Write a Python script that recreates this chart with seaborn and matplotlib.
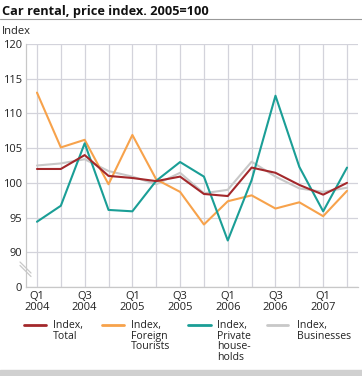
import numpy as np
import pandas as pd
import matplotlib
matplotlib.use('Agg')
import matplotlib.pyplot as plt
from matplotlib.lines import Line2D
import seaborn as sns

# quarters Q1 2004 .. Q2 2007
quarters = ['Q1 2004', 'Q2 2004', 'Q3 2004', 'Q4 2004',
            'Q1 2005', 'Q2 2005', 'Q3 2005', 'Q4 2005',
            'Q1 2006', 'Q2 2006', 'Q3 2006', 'Q4 2006',
            'Q1 2007', 'Q2 2007']
total      = [102.0, 102.0, 104.0, 101.0, 100.7, 100.25, 100.9, 98.4, 98.1, 102.2, 101.45, 99.7, 98.3, 100.0]
foreign    = [113.0, 105.1, 106.2, 99.8, 106.9, 100.5, 98.7, 94.0, 97.35, 98.2, 96.3, 97.2, 95.2, 98.85]
private    = [94.4, 96.7, 105.7, 96.1, 95.9, 100.3, 103.0, 100.9, 91.7, 100.4, 112.55, 102.3, 95.9, 102.2]
businesses = [102.5, 102.8, 103.4, 101.7, 100.9, 99.8, 101.45, 98.5, 99.0, 103.05, 100.9, 99.2, 98.7, 99.3]

series_names  = ['Index,\nTotal', 'Index,\nForeign\nTourists', 'Index,\nPrivate\nhouse-\nholds', 'Index,\nBusinesses']
series_colors = ['#a3282b', '#f7a24b', '#1a9e96', '#c8c8c8']
tick_pos      = [0, 2, 4, 6, 8, 10, 12]
tick_labels   = ['Q1\n2004', 'Q3\n2004', 'Q1\n2005', 'Q3\n2005', 'Q1\n2006', 'Q3\n2006', 'Q1\n2007']
y_ticks       = [85, 90, 95, 100, 105, 110, 115, 120]
y_labels      = ['0', '90', '95', '100', '105', '110', '115', '120']

long = pd.concat([
    pd.DataFrame({'q': np.arange(len(quarters)), 'value': vals, 'series': name})
    for name, vals in zip(series_names, [total, foreign, private, businesses])
])

sns.set_style('white')
plt.rcParams['font.family'] = ['Open Sans', 'DejaVu Sans']

fig = plt.figure(figsize=(3.62, 3.76), dpi=100)
ax = fig.add_axes([26/362, 1 - 287/376, 332/362, 243/376])

sns.lineplot(data=long, x='q', y='value', hue='series', hue_order=series_names,
             palette=dict(zip(series_names, series_colors)),
             linewidth=1.5, legend=False, ax=ax)

# grey behind, red on top
for line, z in zip(ax.get_lines(), [5, 3, 4, 2]):
    line.set_zorder(z)

ax.set_xlim(-0.46, 13.46)
ax.set_ylim(85, 120)
ax.set_xticks(np.arange(len(quarters)), minor=True)
ax.set_xticks(tick_pos)
ax.set_xticklabels(tick_labels, fontsize=8, linespacing=0.95)
ax.set_yticks(y_ticks)
ax.set_yticklabels(y_labels, fontsize=8)
ax.tick_params(axis='both', which='both', length=0, pad=3, colors='#222222')
ax.grid(True, which='both', axis='x', color='#d3d3db', linewidth=0.9)
ax.grid(True, which='major', axis='y', color='#d3d3db', linewidth=0.9)
ax.set_xlabel('')
ax.set_ylabel('')
for s in ['top', 'right']:
    ax.spines[s].set_visible(False)
for s in ['left', 'bottom']:
    ax.spines[s].set_color('#c8c8c8')
    ax.spines[s].set_linewidth(0.9)
ax.set_axisbelow(True)

# axis break marks
for dy in [0, 3.5]:
    fig.add_artist(Line2D([20/362, 31/362], [1 - (262 + dy)/376, 1 - (273 + dy)/376],
                          color='#c8c8c8', linewidth=0.9))

# title, rule, unit label
fig.text(2/362, 1 - 11/376, 'Car rental, price index. 2005=100', fontsize=9.2,
         fontweight='bold', va='center', ha='left', color='#111111')
fig.add_artist(Line2D([0, 1], [1 - 19/376, 1 - 19/376], color='#999999', linewidth=0.8))
fig.text(2/362, 1 - 31/376, 'Index', fontsize=8, va='center', ha='left', color='#222222')

# legend
handle_x = [(24, 46), (102, 124), (188, 211), (267, 288)]
text_x = [53, 131, 217, 297]
for name, color, (x0, x1), tx in zip(series_names, series_colors, handle_x, text_x):
    fig.add_artist(Line2D([x0/362, x1/362], [1 - 325/376] * 2, color=color, linewidth=2))
    fig.text(tx/362, 1 - 320/376, name, fontsize=7.6, va='top', ha='left',
             linespacing=0.95, color='#222222')

fig.add_artist(plt.Rectangle((0, 0), 1, 6/376, color='#d0d0d0', transform=fig.transFigure))

fig.savefig('out.png', dpi=100)
